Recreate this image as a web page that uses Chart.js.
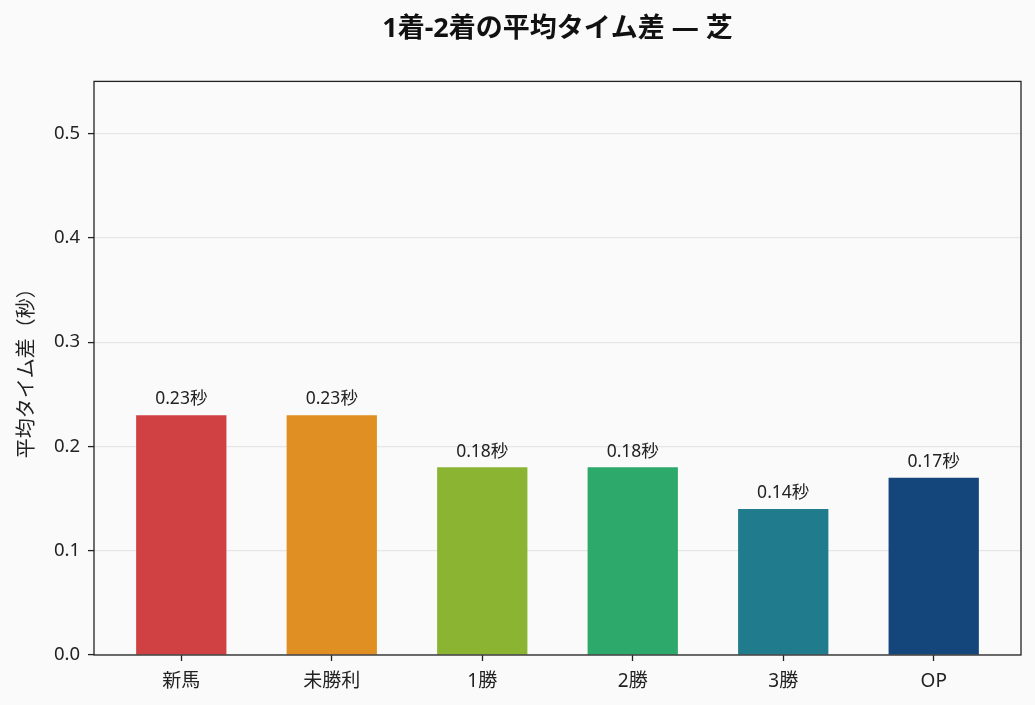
<!DOCTYPE html>
<html>
<head>
<meta charset="utf-8">
<script src="https://cdn.jsdelivr.net/npm/chart.js@4"></script>
<style>
  html, body { margin: 0; padding: 0; background: #fafafa; }
  #wrap { width: 1035px; height: 705px; }
</style>
</head>
<body>
<div id="wrap"><canvas id="chart" width="1035" height="705"></canvas></div>
<script>
var clases = ["新馬", "未勝利", "1勝", "2勝", "3勝", "OP"];
var diferencias = [0.23, 0.23, 0.18, 0.18, 0.14, 0.17];
var colores = ["#d04143", "#e09022", "#8cb433", "#2ea96c", "#207c8c", "#15467b"];
var ticksY = [0, 0.1, 0.2, 0.3, 0.4, 0.5];
var titulo = "1着-2着の平均タイム差 — 芝";
var tituloY = "平均タイム差（秒）";

var fuente = "'Noto Sans', 'Noto Sans CJK JP', sans-serif";

var puntos = [];
for (var i in diferencias) {
    puntos.push({ x: parseInt(i), y: diferencias[i] });
}

var fondo = {
    id: "fondo",
    beforeDraw: function (chart) {
        var ctx = chart.ctx;
        ctx.save();
        ctx.fillStyle = "#fafafa";
        ctx.fillRect(0, 0, chart.width, chart.height);
        ctx.restore();
    }
};

var marco = {
    id: "marco",
    afterDatasetsDraw: function (chart) {
        var a = chart.chartArea;
        var ctx = chart.ctx;
        ctx.save();
        ctx.strokeStyle = "#222222";
        ctx.lineWidth = 1.3;
        ctx.strokeRect(a.left, a.top, a.right - a.left, a.bottom - a.top);
        ctx.restore();
    }
};

var etiquetas = {
    id: "etiquetas",
    afterDatasetsDraw: function (chart) {
        var ctx = chart.ctx;
        var meta = chart.getDatasetMeta(0);
        ctx.save();
        ctx.font = "17.5px " + fuente;
        ctx.fillStyle = "#222222";
        ctx.textAlign = "center";
        ctx.textBaseline = "bottom";
        meta.data.forEach(function (bar, i) {
            ctx.fillText(diferencias[i].toFixed(2) + "秒", bar.x, bar.y - 7);
        });
        ctx.restore();
    }
};

var datos = {
    type: "bar",
    data: {
        datasets: [{
            data: puntos,
            backgroundColor: colores,
            borderWidth: 0,
            barPercentage: 0.6,
            categoryPercentage: 1.0
        }]
    },
    options: {
        responsive: false,
        animation: false,
        layout: { padding: { left: 0, right: 14, top: 0, bottom: 0 } },
        plugins: {
            legend: { display: false },
            tooltip: { enabled: false },
            title: {
                display: true,
                fullSize: false,
                text: titulo,
                color: "#111111",
                font: { family: fuente, size: 27, weight: "bold", lineHeight: 1.2 },
                padding: { top: 13, bottom: 36 }
            }
        },
        scales: {
            x: {
                type: "linear",
                offset: false,
                min: -0.58,
                max: 5.58,
                grid: { offset: false, drawOnChartArea: false, tickColor: "#222222", tickLength: 6, tickWidth: 1.3 },
                border: { display: false },
                ticks: {
                    stepSize: 1,
                    includeBounds: false,
                    autoSkip: false,
                    maxRotation: 0,
                    padding: 9,
                    color: "#222222",
                    font: { family: fuente, size: 19 },
                    callback: function (v) {
                        return clases[v] !== undefined ? clases[v] : "";
                    }
                },
                afterFit: function (s) { s.height = 50; }
            },
            y: {
                min: 0,
                max: 0.55,
                grid: { color: "#e6e6e6", lineWidth: 1.2, tickColor: "#222222", tickLength: 6, tickWidth: 1.3 },
                border: { display: false },
                ticks: {
                    stepSize: 0.1,
                    includeBounds: false,
                    padding: 8,
                    color: "#222222",
                    font: { family: fuente, size: 18.5 },
                    callback: function (v) {
                        var r = Math.round(v * 10) / 10;
                        return ticksY.indexOf(r) >= 0 ? r.toFixed(1) : "";
                    }
                },
                title: {
                    display: true,
                    text: tituloY,
                    color: "#222222",
                    font: { family: fuente, size: 20 },
                    padding: { top: 15, bottom: 0 }
                },
                afterFit: function (s) { s.width = 94; }
            }
        }
    },
    plugins: [fondo, marco, etiquetas]
};

var canvas = document.getElementById("chart").getContext("2d");
window.grafico = new Chart(canvas, datos);
</script>
</body>
</html>
